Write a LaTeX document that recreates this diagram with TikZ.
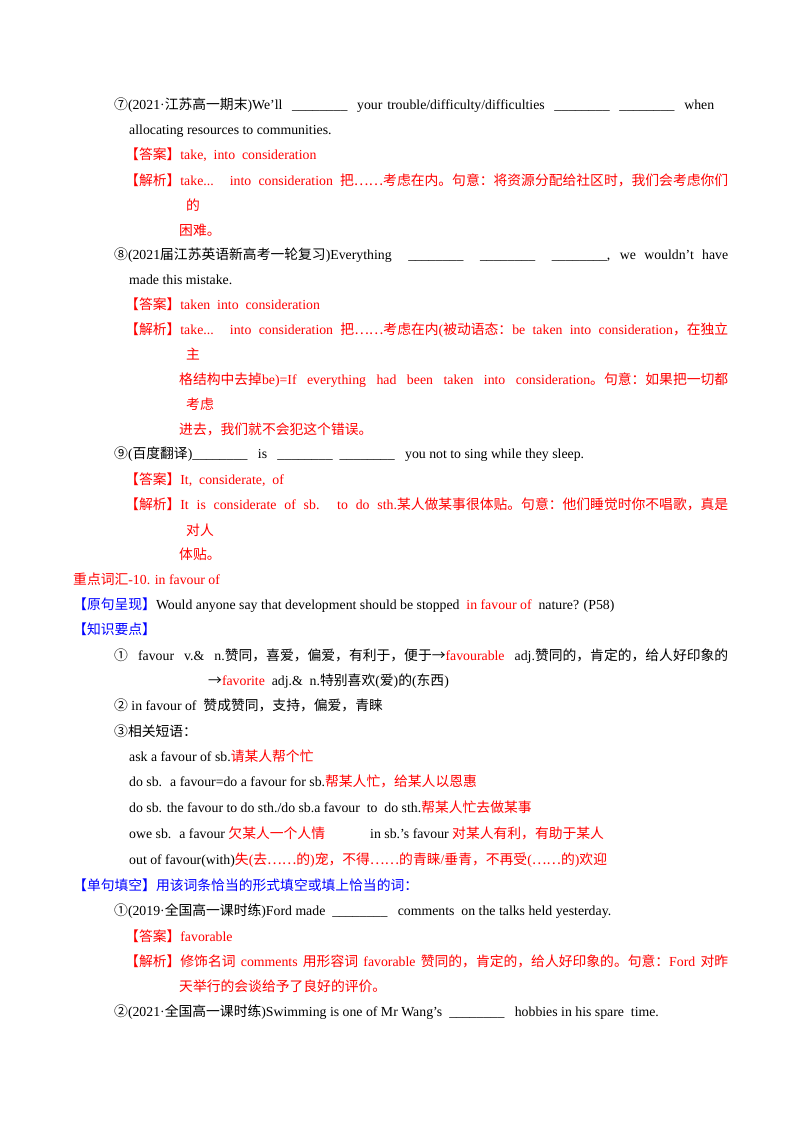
\documentclass[tikz,border=0pt]{standalone}
\usepackage{fontspec}
\setmainfont{Liberation Serif}
\newfontfamily\cjk{Noto Sans CJK SC}
\newfontfamily\lat{Liberation Serif}
\XeTeXinterchartokenstate=1
\newXeTeXintercharclass\CJKcls
\def\setcls#1#2{\count255=#1 \loop\XeTeXcharclass\count255=\CJKcls\ifnum\count255<#2 \advance\count255 1 \repeat}
\setcls{"3000}{"9FFF}
\setcls{"FF00}{"FFEF}
\setcls{"2460}{"24FF}
\XeTeXcharclass"2026=\CJKcls
\XeTeXcharclass"2192=\CJKcls
\XeTeXinterchartoks 0 \CJKcls={\cjk}
\XeTeXinterchartoks 4095 \CJKcls={\cjk}
\XeTeXinterchartoks \CJKcls 0={\lat}
\XeTeXinterchartoks \CJKcls 4095={\lat}
\definecolor{rd}{RGB}{255,0,0}
\definecolor{bl}{RGB}{0,0,255}
\newcommand\R[1]{\textcolor{rd}{#1}}
\newcommand\B[1]{\textcolor{bl}{#1}}
\newcommand\J[2]{\makebox[#1pt][s]{#2}}
\newcommand\bl{\_\_\_\_\_\_\_\_}
\begin{document}
\begin{tikzpicture}[x=1pt,y=-1pt,
  t/.style={anchor=base west,inner sep=0pt,font=\fontsize{13.8}{15}\selectfont}]
\useasboundingbox (0,0) rectangle (800,1132);
\fill[white] (0,0) rectangle (800,1132);
\node[t] (l1) at (114,109) {\J{600}{⑦(2021·江苏高一期末)We’ll \ \bl\ \ your trouble/difficulty/difficulties \ \bl\ \ \bl\ \ when}};
\node[t] (l2) at (129,134) {allocating resources to communities.};
\node[t,text=rd] (l3) at (125,159) {【答案】take,\ \ into\ \ consideration};
\node[t,text=rd] (l4) at (125,185) {\J{603}{【解析】take... into consideration 把……考虑在内。句意：将资源分配给社区时，我们会考虑你们}};
\node[t,text=rd] (l5) at (186,210) {的};
\node[t,text=rd] (l6) at (179,235) {困难。};
\node[t] (l7) at (114,259) {\J{614}{⑧(2021届江苏英语新高考一轮复习)Everything \ \bl\ \ \bl\ \ \bl, we wouldn’t have}};
\node[t] (l8) at (129,284) {made this mistake.};
\node[t,text=rd] (l9) at (125,309) {【答案】taken\ \ into\ \ consideration};
\node[t,text=rd] (l10) at (125,334) {\J{603}{【解析】take... into consideration 把……考虑在内(被动语态：be taken into consideration，在独立}};
\node[t,text=rd] (l11) at (186,359) {主};
\node[t,text=rd] (l12) at (179,384) {\J{549}{格结构中去掉be)=If everything had been taken into consideration。句意：如果把一切都}};
\node[t,text=rd] (l13) at (186,409) {考虑};
\node[t,text=rd] (l14) at (179,434) {进去，我们就不会犯这个错误。};
\node[t] (l15) at (114,458) {⑨(百度翻译)\bl\ \ \ is \ \ \bl\ \ \bl\ \ \ you not to sing while they sleep.};
\node[t,text=rd] (l16) at (125,484) {【答案】It,\ \ considerate,\ \ of};
\node[t,text=rd] (l17) at (125,509) {\J{603}{【解析】It is considerate of sb. to do sth.某人做某事很体贴。句意：他们睡觉时你不唱歌，真是}};
\node[t,text=rd] (l18) at (186,535) {对人};
\node[t,text=rd] (l19) at (179,559) {体贴。};
\node[t,text=rd] (l20) at (73,584) {重点词汇-10. in favour of};
\node[t] (l21) at (73,609) {\B{【原句呈现】}Would anyone say that development should be stopped \ \R{in favour of} \ nature? (P58)};
\node[t] (l22) at (73,634) {\B{【知识要点】}};
\node[t] (l23) at (114,660) {\J{614}{① favour v.\& n.赞同，喜爱，偏爱，有利于，便于→\R{favourable} adj.赞同的，肯定的，给人好印象的}};
\node[t] (l24) at (208,685) {→\R{favorite} \ adj.\& \ n.特别喜欢(爱)的(东西)};
\node[t] (l25) at (114,710) {② in favour of \ 赞成赞同，支持，偏爱，青睐};
\node[t] (l26) at (114,736) {③相关短语：};
\node[t] (l27) at (129,761) {ask a favour of sb.\R{请某人帮个忙}};
\node[t] (l28) at (129,786) {do sb. \ a favour=do a favour for sb.\R{帮某人忙，给某人以恩惠}};
\node[t] (l29) at (129,812) {do sb. the favour to do sth./do sb.a favour \ to \ do sth.\R{帮某人忙去做某事}};
\node[t] (l30) at (129,838) {owe sb. \ a favour \R{欠某人一个人情}};
\node[t] (l30b) at (370,838) {in sb.’s favour \R{对某人有利，有助于某人}};
\node[t] (l31) at (129,864) {out of favour(with)\R{失(去……的)宠，不得……的青睐/垂青，不再受(……的)欢迎}};
\node[t,text=bl] (l32) at (73,890) {【单句填空】用该词条恰当的形式填空或填上恰当的词：};
\node[t] (l33) at (114,915) {①(2019·全国高一课时练)Ford made \ \bl\ \ \ comments \ on the talks held yesterday.};
\node[t,text=rd] (l34) at (125,941) {【答案】favorable};
\node[t,text=rd] (l35) at (125,966) {\J{603}{【解析】修饰名词 comments 用形容词 favorable 赞同的，肯定的，给人好印象的。句意：Ford 对昨}};
\node[t,text=rd] (l36) at (179,991) {天举行的会谈给予了良好的评价。};
\node[t] (l37) at (114,1016) {②(2021·全国高一课时练)Swimming is one of Mr Wang’s \ \bl\ \ \ hobbies in his spare \ time.};
\end{tikzpicture}
\end{document}
